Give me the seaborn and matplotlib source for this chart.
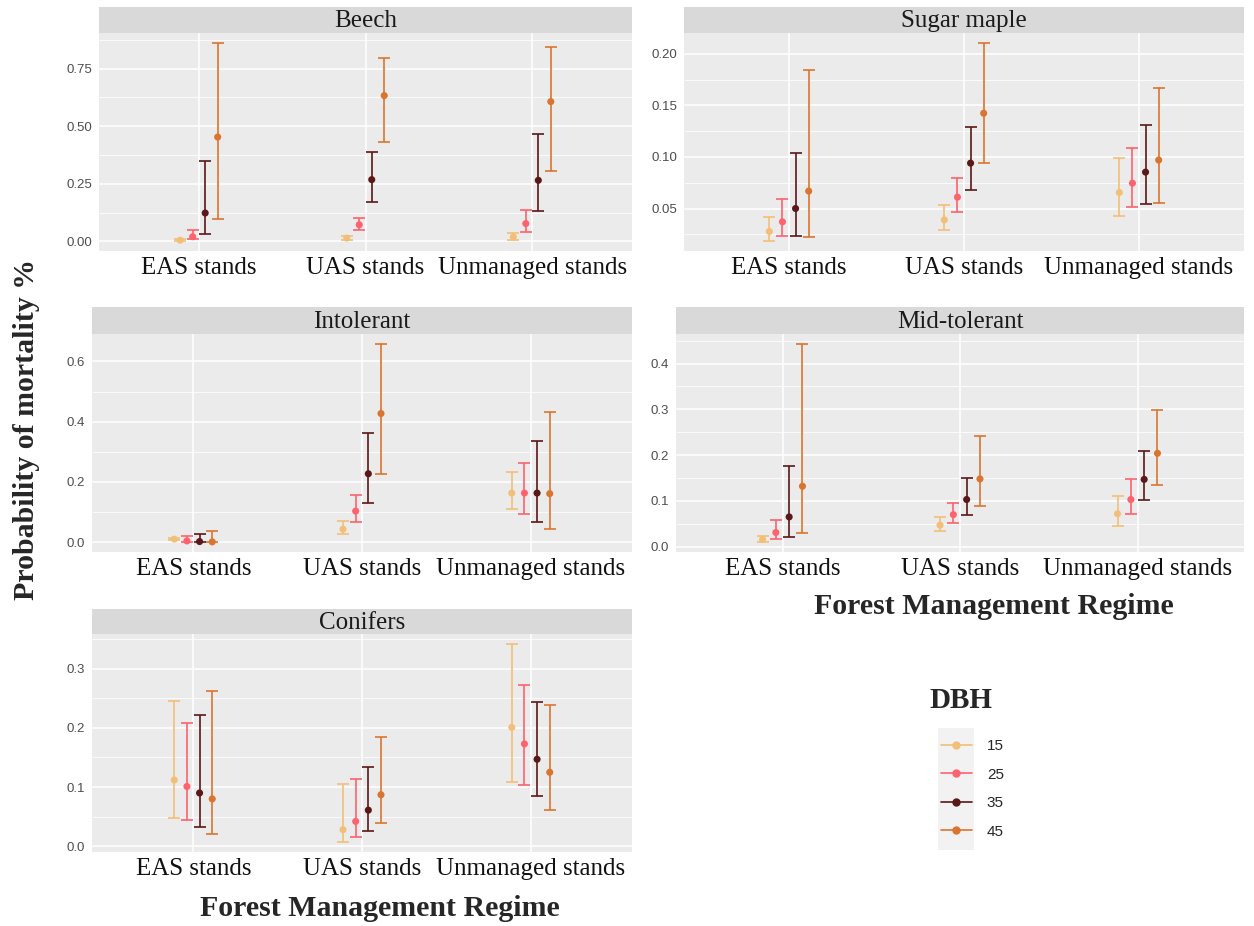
import numpy as np
import pandas as pd
import matplotlib.pyplot as plt
import seaborn as sns
from matplotlib.ticker import MultipleLocator, AutoMinorLocator, FormatStrFormatter
from matplotlib.lines import Line2D
from matplotlib.patches import Rectangle

# Categories
regimes = ['EAS stands', 'UAS stands', 'Unmanaged stands']
dbh_classes = ['15', '25', '35', '45']
dbh_colors = ['#F3BF78', '#FD636E', '#5A1818', '#D9752F']

# Estimates and intervals, one row per regime, one column per DBH class
beech_est = [[0.005, 0.020, 0.123, 0.453], [0.014, 0.072, 0.268, 0.633], [0.019, 0.077, 0.265, 0.607]]
beech_lo = [[0.001, 0.010, 0.033, 0.099], [0.005, 0.048, 0.173, 0.433], [0.007, 0.040, 0.130, 0.306]]
beech_hi = [[0.010, 0.048, 0.347, 0.862], [0.024, 0.100, 0.390, 0.796], [0.036, 0.136, 0.465, 0.845]]

maple_est = [[0.0277, 0.0371, 0.0500, 0.0669], [0.0390, 0.0610, 0.0940, 0.1424], [0.0655, 0.0746, 0.0853, 0.0970]]
maple_lo = [[0.0184, 0.0229, 0.0229, 0.0223], [0.0287, 0.0465, 0.0680, 0.0940], [0.0429, 0.0510, 0.0545, 0.0558]]
maple_hi = [[0.0417, 0.0597, 0.1040, 0.1840], [0.0533, 0.0797, 0.1290, 0.2106], [0.0985, 0.1088, 0.1310, 0.1667]]

intol_est = [[0.010, 0.004, 0.002, 0.001], [0.043, 0.103, 0.227, 0.427], [0.163, 0.163, 0.163, 0.161]]
intol_lo = [[0.006, 0.001, 0.0005, 0.0002], [0.026, 0.066, 0.131, 0.226], [0.109, 0.094, 0.066, 0.044]]
intol_hi = [[0.014, 0.019, 0.027, 0.036], [0.069, 0.156, 0.363, 0.658], [0.233, 0.262, 0.337, 0.433]]

midtol_est = [[0.016, 0.031, 0.065, 0.132], [0.047, 0.070, 0.103, 0.148], [0.072, 0.103, 0.147, 0.204]]
midtol_lo = [[0.010, 0.0175, 0.022, 0.029], [0.034, 0.052, 0.070, 0.088], [0.045, 0.071, 0.102, 0.135]]
midtol_hi = [[0.023, 0.058, 0.177, 0.443], [0.065, 0.095, 0.150, 0.241], [0.111, 0.148, 0.208, 0.299]]

conif_est = [[0.112, 0.101, 0.090, 0.080], [0.028, 0.042, 0.061, 0.087], [0.201, 0.173, 0.147, 0.125]]
conif_lo = [[0.047, 0.045, 0.033, 0.021], [0.007, 0.015, 0.026, 0.039], [0.109, 0.104, 0.085, 0.061]]
conif_hi = [[0.245, 0.209, 0.221, 0.263], [0.106, 0.114, 0.134, 0.185], [0.342, 0.273, 0.243, 0.238]]

species_data = [
    ('Beech', beech_est, beech_lo, beech_hi),
    ('Sugar maple', maple_est, maple_lo, maple_hi),
    ('Intolerant', intol_est, intol_lo, intol_hi),
    ('Mid-tolerant', midtol_est, midtol_lo, midtol_hi),
    ('Conifers', conif_est, conif_lo, conif_hi),
]

rows = []
for sp, est, lo, hi in species_data:
    for i, reg in enumerate(regimes):
        for j, dbh in enumerate(dbh_classes):
            rows.append({'species': sp, 'regime': reg, 'dbh': dbh,
                         'est': est[i][j], 'lo': lo[i][j], 'hi': hi[i][j],
                         'x': i + (j - 1.5) * 0.3 / 4})
df = pd.DataFrame(rows)

# Layout in pixels: left, right, strip top, strip bottom, panel bottom
W, H = 1254, 926
layout = {
    'Beech': (99, 632, 7, 33, 251, 0.25, '%.2f'),
    'Sugar maple': (684, 1244, 7, 33, 251, 0.05, '%.2f'),
    'Intolerant': (92, 632, 307, 334, 552, 0.2, '%.1f'),
    'Mid-tolerant': (676, 1244, 307, 334, 552, 0.1, '%.1f'),
    'Conifers': (92, 632, 609, 634, 852, 0.1, '%.1f'),
}

sns.set_theme(style='darkgrid')
serif = 'Liberation Serif'
sans = 'Liberation Sans'
palette = dict(zip(dbh_classes, dbh_colors))

fig = plt.figure(figsize=(W / 100, H / 100), dpi=100)

for sp, (l, r, st, sb, b, step, fmt) in layout.items():
    ax = fig.add_axes([l / W, 1 - b / H, (r - l) / W, (b - sb) / H])
    ax.set_facecolor('#EBEBEB')
    d = df[df['species'] == sp]
    for dbh in dbh_classes:
        g = d[d['dbh'] == dbh]
        ax.errorbar(g['x'], g['est'], yerr=[g['est'] - g['lo'], g['hi'] - g['est']],
                    fmt='none', ecolor=palette[dbh], elinewidth=1.2, capsize=4.5,
                    capthick=1.2, zorder=2)
    sns.scatterplot(data=d, x='x', y='est', hue='dbh', palette=palette, s=26,
                    linewidth=0, legend=False, ax=ax, zorder=3)
    ax.margins(y=0.05)
    ax.set_xlim(-0.6, 2.6)
    ax.set_xticks(range(len(regimes)))
    ax.set_xticklabels(regimes, fontfamily=serif, fontsize=18, color='#111111')
    ax.yaxis.set_major_locator(MultipleLocator(step))
    ax.yaxis.set_minor_locator(AutoMinorLocator(2))
    ax.yaxis.set_major_formatter(FormatStrFormatter(fmt))
    for lab in ax.get_yticklabels():
        lab.set_fontfamily(sans)
        lab.set_fontsize(9.5)
        lab.set_color('#4D4D4D')
    ax.grid(which='major', color='white', linewidth=1.1)
    ax.grid(which='minor', axis='y', color='white', linewidth=0.55)
    ax.tick_params(which='major', length=3, width=0.8, color='#333333', pad=2)
    ax.tick_params(axis='x', which='major', pad=1)
    ax.tick_params(which='minor', length=0)
    ax.set_xlabel('')
    ax.set_ylabel('')
    for s in ax.spines.values():
        s.set_visible(False)

    strip = fig.add_axes([l / W, 1 - sb / H, (r - l) / W, (sb - st) / H])
    strip.set_facecolor('#D9D9D9')
    strip.set_xticks([])
    strip.set_yticks([])
    strip.grid(False)
    for s in strip.spines.values():
        s.set_visible(False)
    strip.text(0.5, 0.45, sp, ha='center', va='center', fontfamily=serif,
               fontsize=18, color='#1A1A1A', transform=strip.transAxes)

# Axis titles
fig.text(27 / W, 1 - 430 / H, 'Probability of mortality %', rotation=90, ha='center',
         va='center', fontfamily=serif, fontsize=21.5, fontweight='bold')
fig.text(994 / W, 1 - 607 / H, 'Forest Management Regime', ha='center', va='center',
         fontfamily=serif, fontsize=21.5, fontweight='bold')
fig.text(380 / W, 1 - 908 / H, 'Forest Management Regime', ha='center', va='center',
         fontfamily=serif, fontsize=21.5, fontweight='bold')

# Legend
fig.add_artist(Rectangle((938 / W, 1 - 850 / H), 36 / W, 122 / H,
                         transform=fig.transFigure, facecolor='#F2F2F2',
                         edgecolor='none', zorder=0))
handles = [Line2D([0], [0], color=c, marker='o', markersize=5, linewidth=1.2)
           for c in dbh_colors]
fig.legend(handles, dbh_classes, loc='center left', bbox_to_anchor=(941 / W, 1 - 789 / H),
           frameon=False, borderpad=0, borderaxespad=0, handlelength=2.0,
           handletextpad=1.0, labelspacing=0.95,
           prop={'family': sans, 'size': 11})
fig.text(961 / W, 1 - 701 / H, 'DBH', ha='center', va='center', fontfamily=serif,
         fontsize=21, fontweight='bold')

fig.savefig('out.png', dpi=100)
